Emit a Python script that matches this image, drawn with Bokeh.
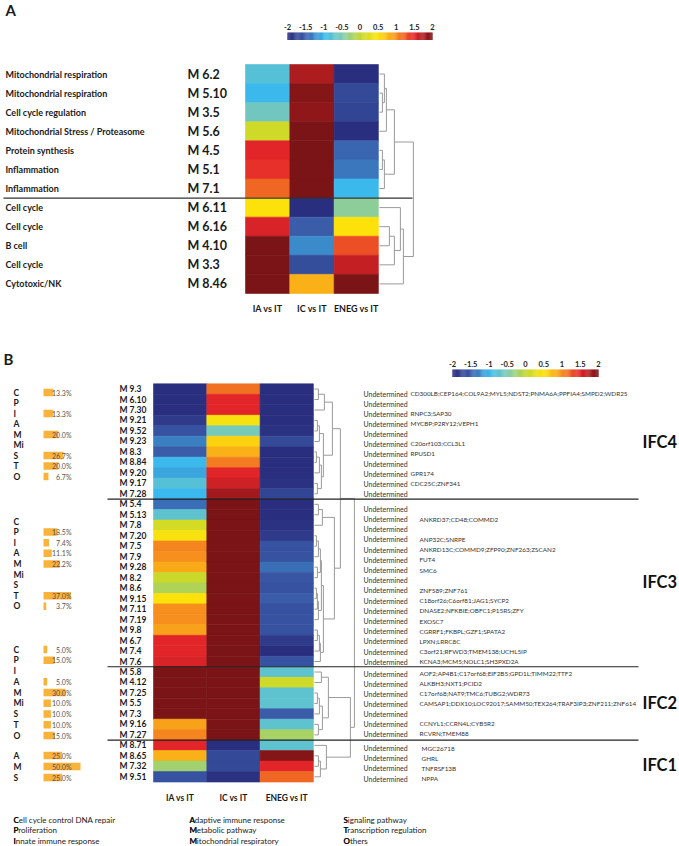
import numpy as np
from bokeh.plotting import figure
from bokeh.models import ColumnDataSource, Range1d, LinearColorMapper
from bokeh.embed import file_html
from bokeh.resources import INLINE
from bokeh.core.properties import value

# ---------------- DATA ----------------
comparisons = ["IA vs IT", "IC vs IT", "ENEG vs IT"]
cbar_ticks = [-2, -1.5, -1, -0.5, 0, 0.5, 1, 1.5, 2]
cbar_labels = ["-2", "-1.5", "-1", "-0.5", "0", "0.5", "1", "1.5", "2"]

# Panel A
a_functions = ["Mitochondrial respiration", "Mitochondrial respiration", "Cell cycle regulation",
               "Mitochondrial Stress / Proteasome", "Protein synthesis", "Inflammation", "Inflammation",
               "Cell cycle", "Cell cycle", "B cell", "Cell cycle", "Cytotoxic/NK"]
a_modules = ["M 6.2", "M 5.10", "M 3.5", "M 5.6", "M 4.5", "M 5.1", "M 7.1",
             "M 6.11", "M 6.16", "M 4.10", "M 3.3", "M 8.46"]
a_ia = [-0.8, -1.0, -0.6, 0.1, 1.5, 1.45, 1.2, 0.5, 1.55, 2.0, 2.0, 2.0]
a_ic = [1.75, 1.95, 1.9, 2.0, 2.0, 2.0, 2.0, -2.0, -1.5, -1.25, -1.65, 0.8]
a_eneg = [-2.0, -1.7, -1.75, -2.0, -1.45, -1.35, -1.0, -0.4, 0.5, 1.3, 1.65, 2.0]
a_group_sizes = [7, 5]
# dendrogram merges: (child, child, height); new nodes numbered from 12
a_links = [(1, 2, 3), (0, 12, 5), (13, 3, 7), (4, 5, 3), (15, 6, 5), (14, 16, 15),
           (8, 9, 10), (18, 10, 15), (7, 19, 21), (20, 11, 24), (17, 21, 34)]

# Panel B
b_modules = ["M 9.3", "M 6.10", "M 7.30", "M 9.21", "M 9.52", "M 9.23", "M 8.3", "M 8.84", "M 9.20", "M 9.17", "M 7.28",
             "M 5.4", "M 5.13", "M 7.8", "M 7.20", "M 7.5", "M 7.9", "M 9.28", "M 8.2", "M 8.6", "M 9.15", "M 7.11",
             "M 7.19", "M 9.8", "M 6.7", "M 7.4", "M 7.6",
             "M 5.8", "M 4.12", "M 7.25", "M 5.5", "M 7.3", "M 9.16", "M 7.27",
             "M 8.71", "M 8.65", "M 7.32", "M 9.51"]
b_ia = [-2.0, -2.0, -2.0, -1.85, -1.6, -1.3, -1.5, -1.0, -1.1, -0.8, -1.0,
        -1.4, -0.75, 0.15, 0.45, 1.05, 1.0, 0.85, 0.05, -0.15, 0.5, 1.0, 1.0, 0.9, 1.5, 1.5, 1.55,
        2.0, 2.0, 2.0, 2.0, 2.0, 0.9, 1.05,
        1.5, 0.8, -0.25, -1.6]
b_ic = [1.15, 1.5, 1.5, 0.45, -0.55, 0.6, 0.8, 1.1, 1.5, 1.6, 1.8,
        2.0, 2.0, 2.0, 2.0, 2.0, 2.0, 2.0, 2.0, 2.0, 2.0, 2.0, 2.0, 2.0, 2.0, 2.0, 2.0,
        2.0, 2.0, 2.0, 2.0, 2.0, 2.0, 2.0,
        -2.0, -1.7, -1.7, -1.95]
b_eneg = [-2.0, -2.0, -2.0, -2.0, -1.95, -1.7, -2.0, -2.0, -2.0, -1.95, -1.75,
          -2.0, -2.0, -1.95, -1.85, -1.6, -1.6, -1.4, -1.55, -1.6, -1.5, -1.6, -1.6, -1.6, -1.85, -2.0, -1.6,
          -0.75, 0.1, -0.75, -0.75, -1.5, -0.75, -0.2,
          -0.75, 1.95, 1.5, 1.2]
b_annot = ["Undetermined"] * 38
b_genes = ["CD300LB;CEP164;COL9A2;MYL5;NDST2;PNMA6A;PPFIA4;SMPD2;WDR25", "", "RNPC3;SAP30", "MYCBP;P2RY12;VEPH1", "",
           "C20orf103;CCL3L1", "RPUSD1", "", "GPR174", "CDC25C;ZNF341", "",
           "", "ANKRD37;CD48;COMMD2", "", "ANP32C;SNRPE", "ANKRD13C;COMMD9;ZFP90;ZNF263;ZSCAN2", "FUT4", "SMC6", "",
           "ZNF589;ZNF761", "C18orf26;C6orf81;JAG1;SYCP2", "DNASE2;NFKBIE;OBFC1;P15RS;ZFY", "EXOSC7",
           "CGRRF1;FKBPL;GZF1;SPATA2", "LPXN;LRRC8C", "C3orf21;RFWD3;TMEM138;UCHL5IP", "KCNA3;MCM5;NOLC1;SH3PXD2A",
           "AOF2;AP4B1;C17orf68;EIF2B5;GPD1L;TIMM22;TTF2", "ALKBH3;NXT1;PCID2", "C17orf68;NAT9;TMC6;TUBG2;WDR73",
           "CAMSAP1;DDX10;LOC92017;SAMM50;TEX264;TRAF3IP3;ZNF211;ZNF614", "", "CCNYL1;CCRN4L;CYB5R2", "RCVRN;TMEM88",
           "MGC26718", "GHRL", "TNFRSF13B", "NPPA"]
b_group_names = ["IFC4", "IFC3", "IFC2", "IFC1"]
b_group_sizes = [11, 16, 7, 4]
b_links = [(0, 1, 4), (38, 2, 10), (3, 4, 3), (40, 5, 5), (6, 7, 2), (42, 8, 5), (9, 10, 3), (43, 44, 7),
           (41, 45, 9), (39, 46, 18),
           (11, 12, 4), (48, 13, 8), (14, 15, 2), (50, 16, 4), (17, 18, 3), (51, 52, 6), (19, 20, 2), (54, 21, 3),
           (55, 22, 4), (53, 56, 7), (23, 24, 3), (58, 25, 5), (59, 26, 6), (57, 60, 9), (49, 61, 20),
           (47, 62, 26),
           (27, 28, 7), (29, 30, 3), (65, 31, 5), (32, 33, 4), (66, 67, 8), (64, 68, 14),
           (35, 36, 4), (70, 37, 6), (34, 71, 12), (69, 72, 36), (63, 73, 40)]

cat_letters = ["C", "P", "I", "A", "M", "Mi", "S", "T", "O"]
ifc4_pct = [13.3, None, 13.3, None, 20.0, None, 26.7, 20.0, 6.7]
ifc3_pct = [None, 18.5, 7.4, 11.1, 22.2, None, None, 37.0, 3.7]
ifc2_pct = [5.0, 15.0, None, 5.0, 30.0, 10.0, 10.0, 10.0, 15.0]
ifc1_letters = ["A", "M", "S"]
ifc1_pct = [25.0, 50.0, 25.0]

legend_cols = [["Cell cycle control DNA repair", "Proliferation", "Innate immune response"],
               ["Adaptive immune response", "Metabolic pathway", "Mitochondrial respiratory"],
               ["Signaling pathway", "Transcription regulation", "Others"]]

# ---------------- STYLE / LAYOUT ----------------
W, H = 679, 846
FONT = value("Lato")
anchors = ["#2a2e7e", "#3a5ca9", "#3bb9ec", "#7fcbb4", "#c3d72e", "#fde30b", "#f7921e", "#e5252a", "#7b1416"]


def _rgb(h):
    return [int(h[i:i + 2], 16) for i in (1, 3, 5)]


palette = []
for k in range(256):
    t = k / 255 * (len(anchors) - 1)
    i = min(int(t), len(anchors) - 2)
    f = t - i
    c0, c1 = _rgb(anchors[i]), _rgb(anchors[i + 1])
    palette.append("#%02x%02x%02x" % tuple(int(round(c0[j] + (c1[j] - c0[j]) * f)) for j in range(3)))
mapper = LinearColorMapper(palette=palette, low=-2, high=2)

p = figure(width=W, height=H, output_backend="svg", toolbar_location=None,
           x_range=Range1d(0, W), y_range=Range1d(H, 0), min_border=0)
p.axis.visible = False
p.grid.visible = False
p.outline_line_color = None
p.background_fill_color = "white"


def txt(x, y, t, size, bold=False, align="left", color="#1a1a1a", baseline="middle"):
    if not isinstance(x, list):
        x, y, t = [x], [y], [t]
    p.text(x=x, y=y, text=t, text_font=FONT, text_font_size=size,
           text_font_style="bold" if bold else "normal", text_align=align,
           text_baseline=baseline, text_color=color)


def heatmap(cols, top, row_h, left, col_w):
    xs, ys, vs = [], [], []
    for j, col in enumerate(cols):
        for i, v in enumerate(col):
            xs.append(left + (j + 0.5) * col_w)
            ys.append(top + (i + 0.5) * row_h)
            vs.append(v)
    src = ColumnDataSource(dict(x=xs, y=ys, v=vs))
    p.rect(x="x", y="y", width=col_w, height=row_h, source=src,
           fill_color={"field": "v", "transform": mapper},
           line_color={"field": "v", "transform": mapper}, line_width=0.6)


def colorbar(left, top, w, h, lab_y):
    vals = np.linspace(-2, 2, 160)
    step = w / len(vals)
    xs = [left + (k + 0.5) * step for k in range(len(vals))]
    src = ColumnDataSource(dict(x=xs, y=[top + h / 2] * len(vals), v=vals))
    p.rect(x="x", y="y", width=step * 1.3, height=h, source=src,
           fill_color={"field": "v", "transform": mapper}, line_color=None)
    txt([left + (t + 2) / 4 * w for t in cbar_ticks], [lab_y] * len(cbar_ticks), cbar_labels,
        "7.5px", bold=True, align="center", color="#222222")


def dendro(links, n, leaf_y, x0):
    pos = {i: (x0, leaf_y[i]) for i in range(n)}
    xs, ys = [], []
    for k, (a, b, h) in enumerate(links):
        xa, ya = pos[a]
        xb, yb = pos[b]
        xn = x0 + h
        xs.append([xa, xn, xn, xb])
        ys.append([ya, ya, yb, yb])
        pos[n + k] = (xn, (ya + yb) / 2)
    p.multi_line(xs=xs, ys=ys, line_color="#9a9a9a", line_width=1)


# ---------------- PANEL A ----------------
txt(5, 9, "A", "15px", bold=True)
colorbar(287, 32, 145, 7.5, 26)
A_TOP, A_RH, A_LEFT, A_CW = 64, 19.08, 245, 44.3
heatmap([a_ia, a_ic, a_eneg], A_TOP, A_RH, A_LEFT, A_CW)
n_a = len(a_modules)
a_y = [A_TOP + (i + 0.5) * A_RH for i in range(n_a)]
txt([5] * n_a, a_y, a_functions, "9px", bold=True)
txt([187] * n_a, a_y, a_modules, "12.5px", bold=True)
txt([A_LEFT + (j + 0.5) * A_CW for j in range(3)], [308] * 3, comparisons, "9px", bold=True, align="center")
dendro(a_links, n_a, a_y, A_LEFT + 3 * A_CW + 1)
ysep = A_TOP + a_group_sizes[0] * A_RH
p.line(x=[3, 412], y=[ysep, ysep], line_color="#333333", line_width=1.2)

# ---------------- PANEL B ----------------
txt(3, 358, "B", "15px", bold=True)
colorbar(452, 369, 146, 7.5, 363)
B_TOP, B_RH, B_LEFT, B_CW = 383.3, 10.48, 153, 53.3
heatmap([b_ia, b_ic, b_eneg], B_TOP, B_RH, B_LEFT, B_CW)
n_b = len(b_modules)
b_y = [B_TOP + (i + 0.5) * B_RH for i in range(n_b)]
txt([119] * n_b, b_y, b_modules, "8.5px", bold=True)
txt([B_LEFT + (j + 0.5) * B_CW for j in range(3)], [797] * 3, comparisons, "8.5px", bold=True, align="center")
dendro(b_links, n_b, b_y, B_LEFT + 3 * B_CW + 1)

# separators, annotation text, IFC labels
text_starts = [393, 508.3, 673, 747.7]
text_steps = [10.0, 10.2, 10.0, 10.1]
ifc_label_y = [441.5, 581, 702.5, 764]
gene_x = [410, 419, 419, 421]
start = 0
for g, size in enumerate(b_group_sizes):
    if g > 0:
        ys = B_TOP + start * B_RH
        p.line(x=[107, 638], y=[ys, ys], line_color="#222222", line_width=1.2)
    ty = [text_starts[g] + k * text_steps[g] for k in range(size)]
    txt([363] * size, ty, b_annot[start:start + size], "7px", color="#333333")
    txt([gene_x[g]] * size, ty, b_genes[start:start + size], "6.35px", color="#333333")
    txt(642, ifc_label_y[g], b_group_names[g], "16.5px", bold=True, color="#111111")
    start += size

# category bars
BAR_X, BAR_SCALE, BAR_H = 43, 0.74, 7.5
groups = [(cat_letters, ifc4_pct, 392, 10.5), (cat_letters, ifc3_pct, 521, 10.6),
          (cat_letters, ifc2_pct, 649, 10.75), (ifc1_letters, ifc1_pct, 755, 11.0)]
for letters, pcts, y0, step in groups:
    ly = [y0 + k * step for k in range(len(letters))]
    txt([13] * len(letters), ly, letters, "8.5px", bold=True)
    bx, by, bw, lab = [], [], [], []
    for k, pc in enumerate(pcts):
        if pc is None:
            continue
        bx.append(BAR_X + pc * BAR_SCALE / 2)
        by.append(ly[k])
        bw.append(pc * BAR_SCALE)
        lab.append("%.1f%%" % pc)
    src = ColumnDataSource(dict(x=bx, y=by, w=bw))
    p.rect(x="x", y="y", width="w", height=BAR_H, source=src, fill_color="#f9b23a", line_color=None)
    txt([71] * len(lab), by, lab, "7px", align="right", color="#555555")

# legend
leg_x = [13, 189, 343]
leg_y = [819, 829.5, 840]
for c, entries in enumerate(legend_cols):
    txt([leg_x[c]] * 3, leg_y, entries, "8px", color="#222222")
    txt([leg_x[c]] * 3, leg_y, [e[0] for e in entries], "8px", bold=True, color="#111111")

open("out.html", "w").write(file_html(p, INLINE))
